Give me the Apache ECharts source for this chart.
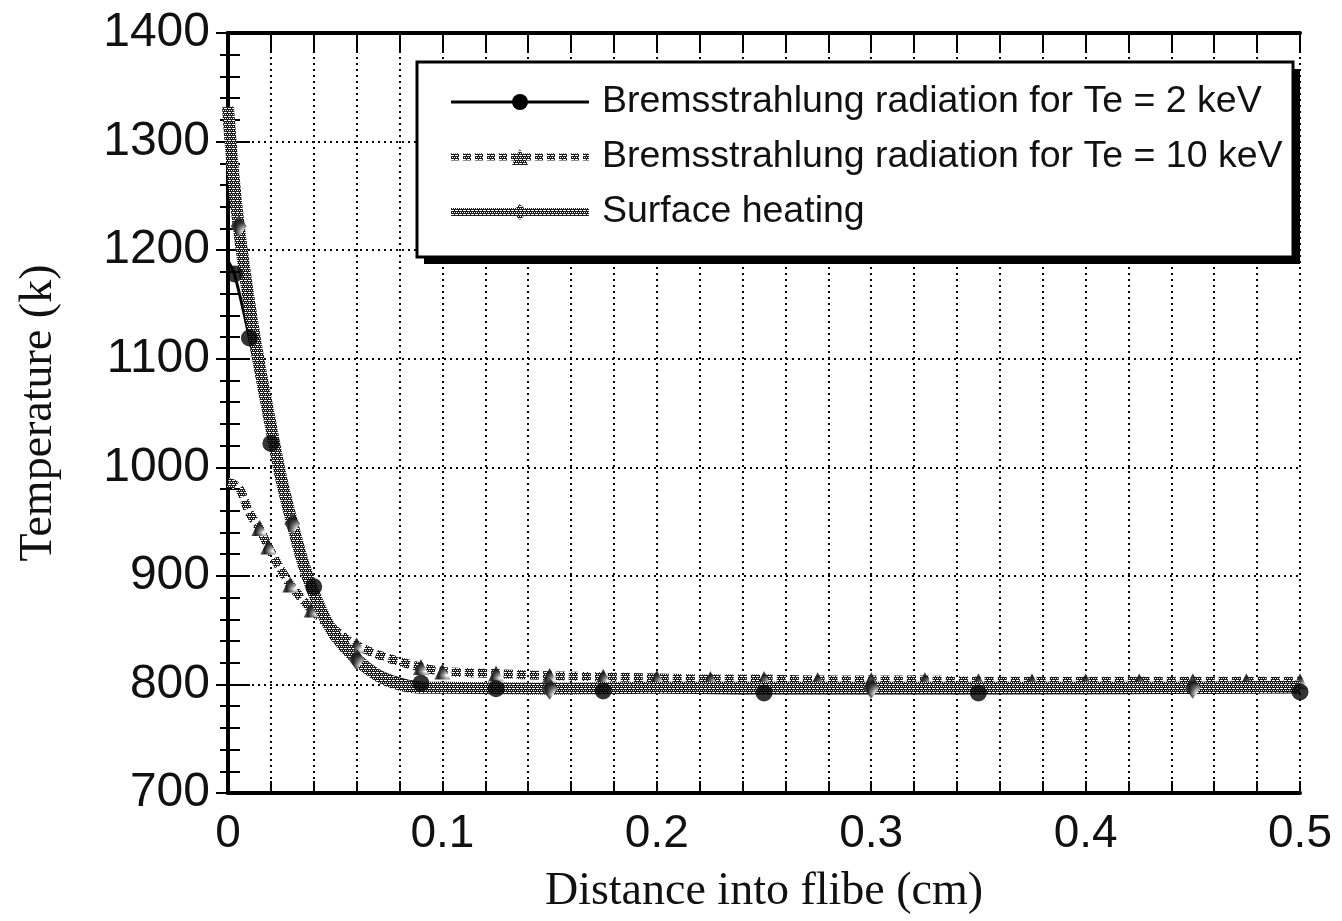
<!DOCTYPE html>
<html><head><meta charset="utf-8">
<script src="https://cdn.jsdelivr.net/npm/echarts@6/dist/echarts.min.js"></script>
<style>html,body{margin:0;padding:0;background:#fff}#c{width:1342px;height:921px}</style>
</head><body><div id="c"></div>
<script>
// ---- data ----
const seriesNames = ['Bremsstrahlung radiation for Te = 2 keV', 'Bremsstrahlung radiation for Te = 10 keV', 'Surface heating'];
const xTickLabels = ['0', '0.1', '0.2', '0.3', '0.4', '0.5'];
const yTickLabels = ['700', '800', '900', '1000', '1100', '1200', '1300', '1400'];
const xTitle = 'Distance into flibe (cm)';
const yTitle = 'Temperature (k)';

// Te = 2 keV
const x2   = [0, 0.003, 0.01, 0.02, 0.03, 0.04, 0.05, 0.06, 0.07, 0.08, 0.09, 0.1, 0.125, 0.175, 0.25, 0.35, 0.5];
const t2   = [1190, 1178, 1119, 1022, 948, 890, 852, 829, 813, 805, 801, 799, 796, 794, 792, 792, 793];
const mk2  = [0, 1, 1, 1, 0, 1, 0, 0, 0, 0, 1, 0, 1, 1, 1, 1, 1];
// Te = 10 keV
const x10  = [0, 0.003, 0.006, 0.010, 0.0146, 0.0188, 0.024, 0.029, 0.034, 0.039, 0.045, 0.05, 0.055, 0.06, 0.069, 0.08, 0.09, 0.1, 0.125, 0.15, 0.175, 0.2, 0.225, 0.25, 0.275, 0.3, 0.325, 0.35, 0.375, 0.4, 0.425, 0.45, 0.475, 0.5];
const t10  = [986, 984, 978, 958, 944, 927, 908, 892, 880, 869, 858, 850, 842, 836, 828, 821, 816, 812, 810, 808, 807, 806, 805, 805, 804, 804, 804, 803, 803, 803, 803, 803, 803, 803];
const mk10 = [0, 0, 0, 0, 1, 1, 0, 1, 0, 1, 0, 0, 0, 1, 0, 0, 1, 1, 1, 1, 1, 1, 1, 1, 1, 1, 1, 1, 1, 1, 1, 1, 1, 1];
// Surface heating
const xs   = [0, 0.002, 0.005, 0.01, 0.015, 0.02, 0.025, 0.03, 0.035, 0.04, 0.045, 0.05, 0.06, 0.07, 0.08, 0.09, 0.1, 0.15, 0.2, 0.3, 0.4, 0.45, 0.5];
const ts   = [1332, 1280, 1222, 1150, 1090, 1038, 988, 948, 912, 884, 862, 845, 823, 808, 800, 797, 797, 796, 797, 797, 797, 797, 798];
const mks  = [0, 0, 1, 0, 0, 0, 0, 1, 0, 0, 0, 0, 1, 0, 0, 0, 0, 1, 0, 1, 0, 1, 0];

// ---- styles ----
function halftone() {
  const c = document.createElement('canvas');
  c.width = 4; c.height = 4;
  const g = c.getContext('2d');
  g.fillStyle = '#1c1c1c'; g.fillRect(0, 0, 4, 4);
  g.fillStyle = '#ffffff';
  g.fillRect(0, 0, 1, 1); g.fillRect(2, 0, 1, 1);
  g.fillRect(1, 2, 1, 1); g.fillRect(3, 2, 1, 1);
  g.fillRect(1, 0, 1, 1);
  return c;
}
const pat = { image: halftone(), repeat: 'repeat' };
const ink = '#111';
const dotted = { type: [2, 4], color: '#000', width: 2 };

function pts(xa, ya, ma) {
  return xa.map((x, i) => ma[i] ? { value: [x, ya[i]] } : { value: [x, ya[i]], symbol: 'none' });
}
function markPts(xa, ya, ma) {
  const out = [];
  xa.forEach((x, i) => { if (ma[i]) out.push([x, ya[i]]); });
  return out;
}

const chart = echarts.init(document.getElementById('c'), null, { renderer: 'canvas' });
const option = {
  backgroundColor: '#fff',
  animation: false,
  grid: { left: 228, right: 42, top: 33, bottom: 128, containLabel: false },
  graphic: [
    { type: 'rect', z: 1, silent: true, shape: { x: 424, y: 69, width: 876, height: 195 }, style: { fill: '#000' } },
    { type: 'rect', z: 2, silent: true, shape: { x: 417, y: 62, width: 876, height: 195 }, style: { fill: '#fff', stroke: '#000', lineWidth: 3 } }
  ],
  legend: {
    orient: 'vertical', left: 417, top: 62, z: 5,
    padding: [20, 0, 0, 30],
    itemWidth: 138, itemHeight: 20, itemGap: 15,
    textStyle: { fontFamily: 'Liberation Sans', fontSize: 37.5, color: ink, lineHeight: 40, padding: [0, 0, 0, 8] },
    data: [
      { name: seriesNames[0], lineStyle: { width: 3, color: '#000' } },
      { name: seriesNames[1], lineStyle: { width: 7, color: pat, type: [8, 4] } },
      { name: seriesNames[2], lineStyle: { width: 8, color: pat } }
    ]
  },
  xAxis: [{
    type: 'value', min: 0, max: 0.5, interval: 0.1, position: 'bottom',
    name: xTitle, nameLocation: 'middle', nameGap: 76,
    nameTextStyle: { fontFamily: 'Liberation Serif', fontSize: 46, color: ink },
    axisLine: { show: true, lineStyle: { color: '#000', width: 4 } },
    axisTick: { show: true, inside: true, length: 12, lineStyle: { color: '#000', width: 2 } },
    minorTick: { show: true, splitNumber: 5, length: 12, lineStyle: { color: '#000', width: 2 } },
    splitLine: { show: true, lineStyle: dotted },
    minorSplitLine: { show: true, lineStyle: dotted },
    axisLabel: { fontFamily: 'Liberation Sans', fontSize: 46, color: ink, margin: 18,
      formatter: v => xTickLabels[Math.round(v * 10)] }
  }, {
    type: 'value', min: 0, max: 0.5, interval: 0.1, position: 'top',
    axisLine: { show: true, lineStyle: { color: '#000', width: 4 } },
    axisTick: { show: true, inside: true, length: 20, lineStyle: { color: '#000', width: 2 } },
    minorTick: { show: true, splitNumber: 5, length: 20, lineStyle: { color: '#000', width: 2 } },
    splitLine: { show: false }, axisLabel: { show: false }
  }],
  yAxis: [{
    type: 'value', min: 700, max: 1400, interval: 100, position: 'left',
    name: yTitle, nameLocation: 'middle', nameGap: 166, nameRotate: 90,
    nameTextStyle: { fontFamily: 'Liberation Serif', fontSize: 46, color: ink },
    axisLine: { show: true, lineStyle: { color: '#000', width: 4 } },
    axisTick: { show: true, inside: true, length: 22, lineStyle: { color: '#000', width: 2 } },
    minorTick: { show: true, splitNumber: 5, length: 12, lineStyle: { color: '#000', width: 2 } },
    splitLine: { show: true, lineStyle: dotted },
    axisLabel: { fontFamily: 'Liberation Sans', fontSize: 48, color: ink, margin: 18,
      formatter: v => yTickLabels[Math.round((v - 700) / 100)] }
  }, {
    type: 'value', min: 700, max: 1400, interval: 100, position: 'right',
    axisLine: { show: true, lineStyle: { color: '#000', width: 4 } },
    axisTick: { show: true, inside: true, length: 12, lineStyle: { color: '#000', width: 2 } },
    minorTick: { show: true, splitNumber: 5, length: 8, lineStyle: { color: '#000', width: 2 } },
    splitLine: { show: false }, axisLabel: { show: false }
  }],
  series: [
    {
      name: seriesNames[0], type: 'line', z: 2,
      symbol: 'circle', symbolSize: 17, smooth: 0.3,
      lineStyle: { color: '#000', width: 3 }, itemStyle: { color: '#000' },
      data: x2.map((x, i) => ({ value: [x, t2[i]], symbol: 'none' }))
    },
    {
      name: seriesNames[1], type: 'line', z: 3,
      symbol: 'triangle', symbolSize: 16, smooth: 0.3,
      lineStyle: { color: pat, width: 9, type: [9, 4] }, itemStyle: { color: pat },
      data: pts(x10, t10, mk10)
    },
    {
      name: seriesNames[2], type: 'line', z: 4,
      symbol: 'diamond', symbolSize: [16, 22], smooth: 0.3,
      lineStyle: { color: pat, width: 12 }, itemStyle: { color: pat },
      data: pts(xs, ts, mks)
    },
    {
      name: seriesNames[0], type: 'scatter', z: 5,
      symbol: 'circle', symbolSize: 17, itemStyle: { color: '#000' },
      data: markPts(x2, t2, mk2)
    }
  ]
};
chart.setOption(option);
</script>
</body></html>
